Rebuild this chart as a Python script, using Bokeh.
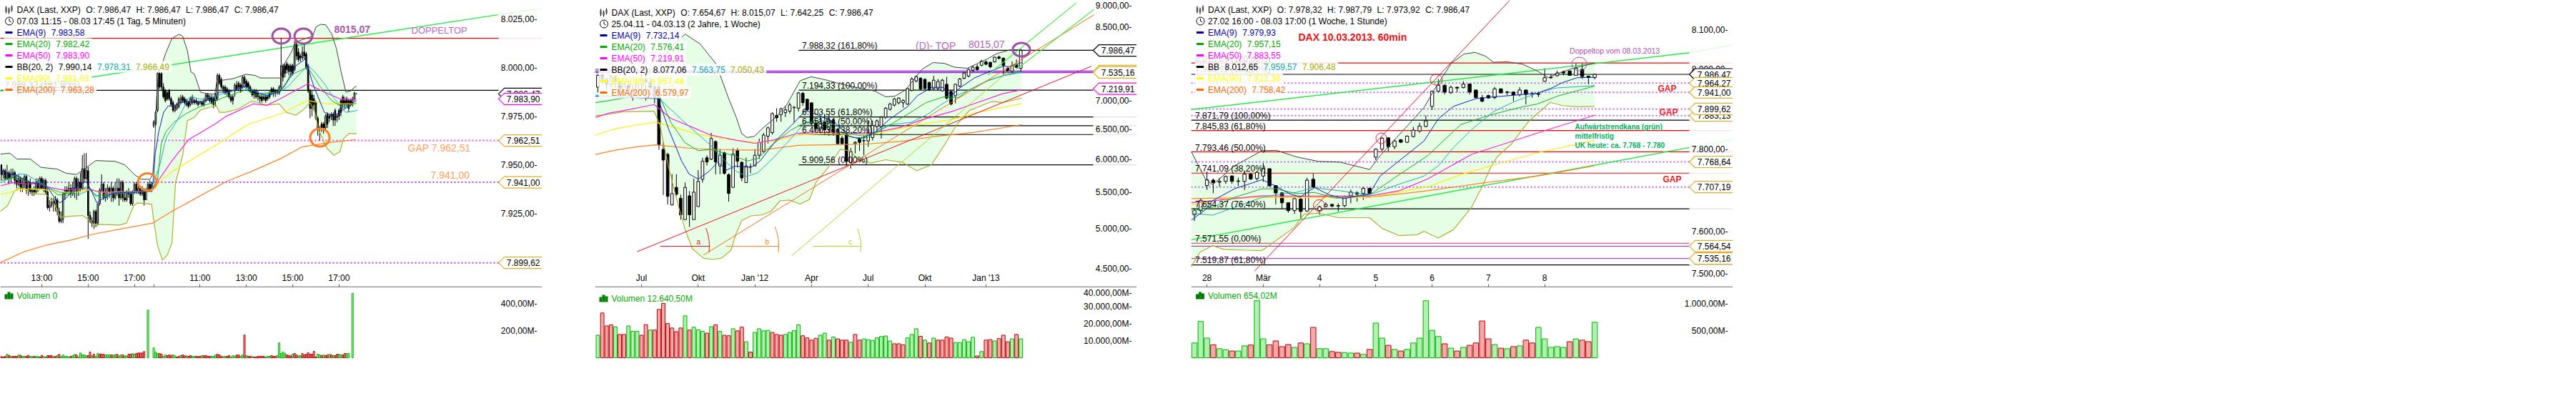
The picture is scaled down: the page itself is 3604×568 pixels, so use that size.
import math
from bokeh.plotting import figure
from bokeh.layouts import row, column
from bokeh.models import Range1d, LinearAxis, LogAxis, FixedTicker
from bokeh.core.properties import value
from bokeh.embed import file_html
from bokeh.resources import INLINE

FONT = "Liberation Sans"
# ------------------------------------------------------------------ panel 1: 5 minutes
P1_OPEN = [7950,7945,7947,7943,7946,7943,7945,7946,7942,7940,7943,7938,7940,7944,7937,7941,7936,7937,7936,7941,
7938,7943,7938,7942,7936,7928,7929,7931,7930,7932,7926,7921,7922,7935,7937,7936,7938,7935,7938,7943,
7936,7941,7938,7948,7943,7947,7924,7921,7920,7926,7920,7930,7937,7940,7933,7936,7938,7936,7938,7933,
7936,7938,7933,7941,7933,7932,7936,7935,7930,7936,7940,7936,7938,7935,7937,7932,7937,7940,7937,
7970,7971,7978,7997,7997,7990,7988,7987,7988,7984,7982,7978,7979,7980,7982,7985,7984,7983,7982,7981,7982,7983,7983,7982,7982,7982,7981,7983,7986,7985,7985,7984,7983,7984,7996,7994,7990,7990,7989,7988,7985,7985,7988,7991,7992,7991,7990,7995,7993,7992,7990,7988,7988,7988,7987,7985,7985,7985,7985,7985,7987,7989,7989,7988,7988,7987,7990,8001,8001,8002,8001,8001,8001,7999,8012,8008,8006,8005,8008,8007,8001,7988,7986,7984,7982,7974,7969,7971,7971,7969,7976,7975,7976,7976,7978,7975,7978,7983,7985,7983,7984,7983,7983,7982,7984,7986.5]
P1_CLOSE = [7945,7947,7943,7946,7943,7945,7946,7942,7940,7943,7938,7940,7944,7937,7941,7936,7937,7936,7941,7938,
7943,7938,7942,7936,7928,7929,7931,7930,7932,7926,7921,7922,7935,7937,7936,7938,7935,7938,7943,7936,
7941,7938,7948,7943,7947,7924,7921,7920,7926,7920,7930,7937,7940,7933,7936,7938,7936,7938,7933,7936,
7938,7933,7941,7933,7932,7936,7935,7930,7936,7940,7936,7938,7935,7937,7932,7937,7940,7937,7940,
7972,7977,7997,7990,7990,7985,7983,7984,7984,7981,7978,7980,7981,7984,7984,7983,7982,7981,7980,7984,7985,7982,7982,7981,7982.5,7981,7983,7986,7984,7983,7982,7981,7986,7996,7992,7990,7989,7987,7987,7985,7983,7983,7991,7989,7990,7989,7995,7992,7990,7990,7988,7986,7986,7985,7985,7984,7983,7984,7983,7984,7985,7987,7987,7987,7987,7990,8001,7995,7997,7999,7998,7998,7997,8012,8006,8004,8005,8008,8006,8000,7988,7979,7979,7981,7974,7968,7969,7969,7969,7975,7971,7974,7975,7973,7973,7974.5,7975,7977,7981,7981,7981,7979,7981,7984,7987,7986.5]
P1_HIGH = [7950,7948,7948,7950,7947,7948,7948,7947,7945,7945,7944,7943,7945,7945,7942,7943,7938,7939,7943,7943,
7944,7944,7943,7943,7938,7932,7933,7933,7934,7933,7928,7926,7936,7939,7939,7941,7940,7941,7944,7944,
7943,7946,7955,7956,7956,7949,7926,7923,7927,7927,7930,7938,7945,7941,7938,7940,7939,7941,7939,7941,
7943,7943,7942,7942,7936,7937,7938,7936,7937,7941,7941,7940,7939,7939,7938,7938,7941,7942,7941,
7973,7978,7998,7998,7998,7992,7989,7988,7989,7985,7983,7981,7982,7985,7986,7986,7985,7984,7983,7985,7986,7984,7984,7983,7983,7983,7984,7987,7987,7986,7986,7985,7987,7997,7997,7995,7991,7991,7990,7989,7986,7986,7992,7993,7993,7992,7996,7996,7994,7993,7991,7989,7989,7989,7988,7986,7986,7986,7986,7986,7988,7990,7990,7989,7989,7991,8015,8002,8002,8003,8002,8002,8002,8014,8013,8010,8007,8011,8012,8008,8002,7989,7988,7986,7983,7975,7970,7972,7972,7976,7977,7976,7977,7977,7979,7976,7979,7984,7986,7985,7985,7984,7984,7985,7987.5,7986.5]
P1_LOW = [7942,7943,7942,7942,7940,7941,7943,7940,7938,7939,7936,7936,7938,7935,7934,7935,7934,7934,7935,7936,
7937,7937,7936,7935,7927,7926,7928,7926,7926,7924,7920,7920,7920,7932,7935,7935,7933,7934,7933,7932,
7934,7936,7937,7941,7942,7912,7920,7918,7917,7918,7919,7929,7936,7932,7931,7932,7933,7931,7931,7932,
7934,7929,7932,7931,7931,7931,7933,7929,7929,7935,7935,7935,7934,7934,7929,7932,7936,7936,7936,
7969,7970,7977,7989,7988,7984,7982,7983,7983,7980,7977,7977,7978,7979,7981,7982,7981,7980,7979,7980,7981,7981,7981,7980,7981,7980,7980,7982,7983,7982,7981,7979,7980,7983,7991,7989,7987,7986,7985,7984,7982,7981,7985,7988,7988,7987,7989,7990,7989,7988,7987,7985,7984,7984,7983,7982,7982,7983,7982,7983,7984,7986,7985,7985,7986,7986,7989,7993,7995,7997,7996,7995,7996,7998,8004,8003,8003,8004,8004,7999,7987,7974,7975,7978,7973,7965,7962.5,7967,7966,7968,7969,7972,7973,7970,7970,7972,7973,7975,7979,7979,7980,7977,7980,7980,7983,7986.5]
# negative volume = red bar
P1_VOL = [-9,-5,-11,25,-18,11,-11,-11,-11,21,-18,11,11,-11,-18,11,9,-11,11,11,-5,-18,9,5,-16,-16,-16,9,-11,16,
-25,9,21,11,11,5,-11,16,25,-21,5,35,21,21,16,-16,-42,16,-26,9,32,-26,-26,-26,21,21,21,-21,21,21,-26,14,21,-21,14,14,-26,-26,32,26,
-32,-35,-35,-35,-46,0,351,0,0,74,42,32,-32,-26,11,21,-16,-21,-18,21,14,-5,-11,16,-21,-14,14,-11,-16,11,11,-11,-9,-11,16,-16,-16,-11,-11,11,
11,21,-26,-21,-11,9,11,-11,-16,5,16,11,-21,-21,11,21,-167,16,-11,-11,11,-5,-5,-11,-11,-11,-11,5,11,11,-16,-11,-11,16,110,32,
42,32,-21,-16,-14,26,-32,-21,16,16,-32,-21,-26,-37,-26,-26,-47,-5,26,21,-16,21,-16,-21,26,-21,16,-16,-26,26,21,-21,-32,32,32,0,474]
P1_XTICKS = [21,45,69,79,103,127,151,175]
P1_XLABELS = ["13:00","15:00","17:00","","11:00","13:00","15:00","17:00"]
P1_YTICKS = [8025,8000,7975,7950,7925]
P1_YLABELS = ["8.025,00-","8.000,00-","7.975,00-","7.950,00-","7.925,00-"]
P1_UP_X = [-.5,4.5,8,15,20.5,29,33.5,39,49,59,64,69,72.5,77,78.5,79.5,80.5,81.5,85.3,88.4,92.1,94,96.4,98.3,100.1,103.2,105.7,110.6,111.9,114.3,120.5,126.7,131.6,134.1,139,144.6,146.4,150.1,152.6,157.6,161.3,163.1,165.6,168.1,171.2,173.6,176.1,178.6,181,182.9,184]
P1_UP = [7955.5,7956,7953,7953,7948.7,7947.8,7945.7,7945,7952.2,7951.8,7950,7945,7942.6,7942.6,7945,7960,7985,7997,8007.6,8015,8017.2,8016.2,8008.8,7997.8,7996.6,7987.4,7986.8,7986.2,7994.1,7993.5,7994.4,7996.6,7996,7994.7,7994.7,7994.7,8001.5,8007.6,8013.1,8015,8016.1,8021,8022.3,8022,8017.4,8010,7997.8,7987.4,7988,7989.8,7990.4]
P1_LO_X = [-.5,3.2,6.9,9.4,13.7,15.5,23,24.8,28.5,30.4,36.5,42,46.4,48.9,50.7,61.2,64.9,68.6,70.5,77.9,79.1,81,83.5,85.9,88.4,90.3,94,96.4,100.1,103.2,109.4,111.3,113.1,116.2,123,129.2,131.6,137.2,144,147.7,152.6,156.3,160,162.5,164.3,168.7,172.4,175.5,177.3,180.4,183.5,184]
P1_LO = [7926,7929,7936.5,7938.3,7937,7935.3,7934.7,7933.4,7928,7923,7923.6,7923.9,7921.2,7918,7919.4,7919,7920,7929,7930.4,7929.8,7920.6,7908.4,7901,7903.4,7909.6,7941,7954.8,7972.7,7974.5,7978.2,7980,7980.7,7977,7977,7978.8,7982.5,7982.5,7980.7,7981.3,7977,7975.5,7978.2,7981.9,7977,7968.4,7958.6,7954.9,7956.8,7963.5,7966.2,7965.9,7966.5]
P1_MID_X = [-.5,3.2,8.8,13.1,18,24.2,30.4,40.2,45.8,51.4,57.5,68.6,77.3,82.2,84.7,86,88.4,92.1,97,98.9,103.2,111.9,125.4,134.1,144,148.9,153.8,158.8,162.5,167.4,172.4,178.5,182.9,184.7]
P1_MID = [7940.8,7942.6,7945.3,7945,7942,7938.3,7935.9,7934.7,7937.1,7932.8,7935.5,7935.9,7936.5,7950,7961,7965,7968.4,7974.5,7984.3,7985,7983.7,7985.6,7989.9,7986.8,7987.4,7990.5,7996,8001,7997.8,7991.7,7984.3,7977,7977.6,7978.2]
P1_E9_X = [-.5,3.2,6.9,11.8,15.5,20.5,24.2,27.3,30.4,34.1,39,44,47,49.5,52,57.5,63.7,68.6,77.3,78.7,79.8,81.6,84.1,86.6,89,92.1,97,103.2,109.4,113.1,118,126.7,131.6,137.8,144.6,147.7,152.6,157.6,158.8,161.9,167.4,172.4,176.1,179.8,184]
P1_E9 = [7947,7945.7,7945,7942.6,7940.8,7940.2,7938.3,7933.4,7930.4,7933.4,7939,7941.4,7936,7930.4,7932.2,7935.3,7935.9,7935.9,7936.5,7941.4,7956,7967,7977,7980.4,7980,7981.9,7982.5,7982.5,7983.7,7987.4,7987.4,7990.5,7987.4,7985.6,7987.8,7992.3,8000.9,8004.5,8000.2,7990.5,7977,7975.1,7977.6,7980,7983.1]
P1_E20_X = [-.5,5.7,10,15.5,20.5,25.4,29.1,34,40.2,45.2,48.9,53.8,61.2,68.6,77.3,81,82.9,85.3,89.6,95.8,103.2,109.4,114.3,126.7,132.9,142.7,146.4,150.8,158.8,165,171.1,176.1,179.8,184]
P1_E20 = [7942,7943.2,7942.6,7940.8,7940.8,7937.7,7934.7,7934.3,7937.1,7939,7934,7934.7,7935.3,7935.9,7936.5,7942.6,7961,7967,7972,7976.4,7980,7981.9,7984.3,7988.6,7985.6,7987.4,7989.9,7996.6,8000.2,7990.5,7983.1,7980,7980,7981.9]
P1_E50_X = [-.5,5.7,13.1,19.3,25.4,31.6,41.5,45.2,51.4,61.2,77.3,81,88.4,97,110.6,116.8,130.4,137.8,144,158.8,167.4,176.1,184]
P1_E50 = [7939.2,7940.8,7940.2,7940.2,7938.3,7937.1,7937.7,7937.7,7935.9,7935.9,7936.5,7941.4,7952,7962.9,7970.9,7975.1,7981.3,7980.7,7983.7,7991.7,7987.4,7983.7,7983.7]
P1_E90_X = [-.5,9.4,15.5,23,29.1,39,45.2,51.4,77.3,81,88.4,110.6,127.9,145.2,158.8,168.7,184]
P1_E90 = [7934.7,7937.1,7937.7,7937.1,7935.9,7935.9,7937.1,7935.9,7936.5,7940.2,7946.5,7959.8,7970.8,7976.4,7983.1,7981.3,7981.3]
P1_E200_X = [-.5,11.8,23,36.5,47,61.2,78.5,88.4,116.6,129.8,145,156,169.6,183.6]
P1_E200 = [7899.7,7905.3,7908.6,7911.4,7914.2,7916.9,7920,7926.1,7941.4,7946.7,7953.3,7959.3,7961.4,7963]
P1_GREEN_X = [-.5,257.3]
P1_GREEN = [7987.9,8027.2]
P1_RED = 8015.07
P1_FIB = 7988.32
P1_DOTS = [7962.51,7941.00,7899.62]
P1_CALLOUTS = [(7986.47,"7.986,47","#000000"),(7983.90,"7.983,90","#ff00ff"),(7962.51,"7.962,51","#e0b020"),(7941.00,"7.941,00","#e0b020"),(7899.62,"7.899,62","#e0b020")]

# ------------------------------------------------------------------ panel 2: weekly
P2_OPEN = [7250,7480,7400,7300,7450,7350,7200,7300,7200,7150,7300,7400,7350,7250,7250,6157,6075,5320,5570,5413,
5117,5448,5117,5296,5690,6022,6000,6285,5893,6100,5760,5570,6138,5950,5640,5878,5893,6062,6120,6373,
6433,6730,6745,6780,6805,6870,6860,7134,7024,6958,6600,6500,6620,6480,6650,6490,6340,6415,5945,6250,
6330,6300,6295,6350,6535,6535,6700,6840,6915,6958,6960,6935,7190,7370,7425,7400,7340,7224,7224,7180,
7305,7170,7090,7270,7420,7465,7580,7650,7680,7750,7740,7750,7850,7825,7620,7560,7690,7620]
P2_CLOSE = [7480,7400,7300,7450,7350,7200,7300,7200,7150,7300,7400,7350,7250,7050,6230,5985,5440,5480,5470,5180,
5570,5182,5500,5660,5966,5955,6335,5955,6062,5780,5482,6080,5966,5710,5893,5880,6062,6275,6393,6515,
6763,6690,6850,6830,6920,6875,7142,6960,6830,6600,6500,6620,6480,6650,6420,6250,6250,5965,6120,6270,
6270,6295,6420,6555,6637,6700,6860,6935,7030,7045,7000,7224,7410,7455,7215,7224,7200,7385,7360,7385,
7045,6935,7305,7410,7525,7595,7641,7595,7765,7700,7650,7845,7820,7680,7560,7670,7640,7986]
P2_HIGH = [7500,7520,7440,7500,7480,7400,7350,7330,7300,7350,7500,7520,7450,7300,7300,6275,6100,5767,5767,5465,
5640,5516,5700,5830,6022,6060,6430,6300,6160,6120,5780,6176,6176,5966,6022,5930,6160,6335,6430,6535,
6785,6860,6870,6900,6960,6900,7160,7160,7024,6960,6650,6700,6750,6750,6670,6510,6380,6430,6180,6290,
6350,6390,6640,6640,6660,6720,6880,6960,7050,7060,7024,7240,7440,7480,7440,7420,7360,7470,7410,7410,
7450,7190,7320,7430,7550,7620,7680,7700,7790,7780,7750,7860,7880,7840,7650,7760,7800,8015]
P2_LOW = [7150,7300,7200,7250,7250,7050,7100,7050,7000,7050,7200,7000,7100,6950,6150,5460,5325,5310,5450,5117,
5117,5020,5117,5296,5640,5900,5985,5765,5765,5760,5365,5570,5870,5660,5640,5780,5893,6000,6100,6250,
6400,6620,6620,6700,6760,6610,6800,6900,6800,6560,6450,6420,6400,6380,6380,6230,6230,5900,5850,6090,
6130,6060,6200,6300,6450,6333,6670,6820,6890,6930,6870,6920,7170,7340,7190,7200,7180,7200,7190,7170,
7020,6910,6950,7250,7400,7440,7540,7570,7660,7680,7620,7730,7800,7490,7530,7530,7620,7560]
P2_VOL = [13240,-26330,-18720,-19330,18260,-13700,-13700,18720,15520,15520,-13240,-19480,16290,-16290,-28460,-31960,-20090,-17500,-15370,-17500,
24660,-16290,17960,16440,15520,-14460,18260,-19330,15520,-13240,-12940,17050,-15830,-17960,9440,-3350,14920,17050,15830,16130,
-14920,-13700,-13240,13700,14920,15980,19330,-12940,-11720,-10350,-11420,13240,14460,-10350,12180,-11110,-10350,-10350,9130,-13700,
-10350,11110,10650,10200,11720,12480,12780,9890,-8220,-8220,-7610,11720,13700,17050,-12630,10350,-8680,11570,-10350,-10350,
-12180,-11570,8980,8980,10650,9440,12020,-1070,3650,-10350,-10650,9890,-11260,-13240,-9440,11110,-13700,11110]
P2_XTICKS = [10,23,36,49,62,75,89]
P2_XLABELS = ["Jul","Okt","Jan '12","Apr","Jul","Okt","Jan '13"]
P2_YTICKS = [9000,8500,7000,6500,6000,5500,5000,4500]
P2_YLABELS = ["9.000,00-","8.500,00-","7.000,00-","6.500,00-","6.000,00-","5.500,00-","5.000,00-","4.500,00-"]
P2_UP_X = [-.55,13.8,16.7,20,23.4,27.1,30,31.7,33,34.2,35.9,38,40.9,43.4,46.4,48.9,51.8,55.1,60.2,63.5,66,68.1,70.6,72.7,74.4,76.9,79.4,81.9,84.8,86.9,89.4,91.5,94.4,97.2]
P2_UP = [7600,7600,8050,8338,8127,7710,7035,6704,6415,6350,6372,6523,6704,6936,7376,7452,7400,7326,7226,7177,7070,7080,7200,7426,7605,7735,7720,7640,7620,7710,7815,7920,7995,8005]
P2_LO_X = [-.55,2.5,5.8,12.9,14.2,16.3,18.4,20,21.7,24.2,26.3,28.4,30.5,31.7,33,35.1,37.6,39.7,41.8,43.9,46.4,48.5,50.1,52.6,55.6,57.6,60.2,62.7,66,69.8,73.1,76.5,79.4,82.3,85.2,90.3,92.8,97.2]
P2_LO = [6727,6750,6796,6805,6568,5850,5317,4985,4737,4624,4608,4624,4720,4933,5105,5168,5182,5229,5376,5387,5331,5395,5654,5850,6156,6135,5970,5938,5990,5950,5820,5910,6220,6568,6818,6983,6960,7045]
P2_MID_X = [-.55,13.8,16.7,19.2,22.5,25.9,29.2,31.7,34.2,36.7,40.1,43.4,47.6,51,54.3,57.6,61,63.5,66.8,71.9,75.6,78.5,81.9,85.2,89.4,92.8,97.2]
P2_MID = [7100,7056,6840,6657,6436,6220,5970,5811,5733,5790,6010,6263,6610,6657,6568,6415,6372,6436,6568,6610,6750,6912,7080,7200,7370,7470,7540]
P2_E9_X = [-.55,13.8,16.3,19.2,20.9,23,25.5,27.5,29.6,31.3,35.1,37.2,40.9,45.1,47.6,50.1,54.3,57.6,60.2,63.5,66.8,71.1,73.3,76.6,79.3,81,83.2,86.4,90.3,93,94.1,97.2]
P2_E9 = [7080,7035,6479,5970,5770,5692,5811,5950,5830,5890,5870,5970,6306,6610,6818,6750,6610,6372,6328,6436,6657,6893,7090,7247,7247,7090,7247,7430,7570,7665,7650,7735]
P2_E20_X = [-.55,13.8,16.7,20,23,25.9,29.2,31.3,34.2,36.7,40.1,44.3,47.6,51.8,55.1,58.5,61.8,66,71,75.2,79.4,82.7,85.2,89.4,93.6,97.2]
P2_E20 = [6960,7150,6610,6263,6135,6156,6094,6052,5970,6010,6240,6479,6610,6590,6458,6350,6350,6523,6750,6960,7070,7056,7200,7380,7490,7555]
P2_E50_X = [-.55,2.5,7.5,12.9,16.7,21.7,25.9,31.7,35.9,40.1,45.9,52.6,59.3,63.5,69.4,74.4,81,86.1,92.8,97.2]
P2_E50 = [6695,6770,6840,6927,6680,6523,6392,6306,6255,6306,6422,6436,6422,6436,6523,6657,6796,6936,7127,7200]
P2_E90_X = [-.55,4.1,9.2,13.3,17.5,22.5,29.2,35.9,40.1,45.9,52.6,61,65.2,73.5,81,87.7,97.2]
P2_E90 = [6392,6500,6568,6610,6523,6415,6329,6270,6285,6392,6415,6392,6436,6568,6657,6796,6945]
P2_E200_X = [-.55,4.1,9.2,13.3,21.7,31.7,37.6,45.9,52.6,61,69.4,77.7,86.1,97.2]
P2_E200 = [6073,6145,6200,6230,6170,6145,6145,6220,6230,6240,6285,6372,6436,6568]
P2_FIBS = [7988.32,7194.33,6703.56,6551.94,6400.34,5909.56]
P2_FIB_LABELS = ["7.988,32 (161,80%)","7.194,33 (100,00%)","6.703,55 (61,80%)","6.551,94 (50,00%)","6.400,34 (38,20%)","5.909,56 (0,00%)"]
P2_PURPLE = [7564.54,7535.16]
P2_RED_T = ([9,113.2],[4703,7660])
P2_ORG_T = ([24.2,113.8],[4661,8772])
P2_YEL_T = ([44.5,96.5],[4655,7735])
P2_GRN1_T = ([89.4,109.7],[7484,9049])
P2_GRN2_T = ([96.1,113.7],[7605,8890])
P2_CALLOUTS = [(7986.47,"7.986,47","#000000"),(7564.54,"","#e0b020"),(7535.16,"7.535,16","#e0b020"),(7219.91,"7.219,91","#ff00ff")]

# ------------------------------------------------------------------ panel 3: hourly
P3_OPEN = [7640,7650,7711,7724,7719,7721,7734,7721,7721,7739,7728,7734,7752,7711,7693,7669,7650,7678,7649,7726,7650,7660,7665,7661,7662,7686,7693,7692,7704,7780,7800,7828,7806,7823,7817,7831,7845,7856,7906,7944,7959,7941,7954,7953,7962,7947,7928,7933,7928,7950,7941,7942,7935,7947,7937,7938,7969,7978,7983,7993,7995,7984,7999,7982,7978.3]
P3_CLOSE = [7650,7675,7725,7718,7721,7733,7721,7722,7739,7727,7743,7752,7710,7693,7669,7650,7679,7648,7724,7707,7659,7665,7661,7662,7684,7695,7690,7704,7692,7800,7827,7806,7820,7817,7832,7847,7857,7870,7944,7959,7942,7954,7952,7962,7942,7928,7919,7927,7950,7940,7942,7935,7947,7936,7937.5,7936,7978,7979,7990,7990,7984,8002,7981,7979,7986.5]
P3_HIGH = [7655,7680,7745,7728,7730,7735,7736,7730,7745,7741,7746,7766,7753,7712,7695,7670,7683,7680,7730,7740,7662,7670,7667,7668,7687,7701,7697,7707,7706,7802,7830,7829,7823,7825,7834,7855,7865,7883,7946,7975,7961,7958,7955,7969,7963,7948,7935,7935,7955,7951,7945,7943,7954,7948,7942,7942,8002,7987,7996,7996,7996,8014,8014,7983,7987.8]
P3_LOW = [7625,7640,7700,7692,7708,7715,7715,7710,7700,7724,7723,7720,7708,7665,7655,7645,7642,7630,7647,7705,7640,7658,7658,7648,7658,7668,7672,7676,7690,7773,7795,7795,7800,7815,7815,7829,7840,7854,7897,7942,7936,7937,7942,7951,7936,7926,7916,7925,7924,7938,7934,7919,7931,7911,7928,7929,7968,7975,7981,7984,7983,7983,7975,7962,7973.9]
P3_VOL = [272,667,362,-238,167,148,-124,124,219,-234,1050,348,-238,-310,-205,-243,191,-272,257,-558,
167,167,-114,-100,95,86,-86,62,-153,639,362,-229,153,-124,153,272,362,1050,505,391,
-257,176,-124,191,-229,-272,-677,-348,243,-176,167,-205,219,-324,-272,558,348,191,205,191,
-296,348,-324,-296,653]
P3_XTICKS = [2,11,20,29,38,47,56]
P3_XLABELS = ["28","Mär","4","5","6","7","8"]
P3_YTICKS = [8100,8000,7800,7600,7500]
P3_YLABELS = ["8.100,00-","8.000,00-","7.800,00-","7.600,00-","7.500,00-"]
P3_UP_X = [-.5,1.75,2.9,6.4,10.8,13.1,16.3,19.8,23.3,28,29.7,32.7,36.7,38.5,41.1,43.1,44.9,46.6,47.8,50.1,52.5,54.8,56.6,58.3,60.6,64]
P3_UP = [7794,7727,7713,7759,7796,7797,7781,7770,7768,7750,7784,7835,7903,7952,8015,8038,8042,8032,8017,8018,8012,7995,7978,7990,8002,8015]
P3_LO_X = [-.5,.9,2.9,4.7,8.2,10.8,13.4,16,17.5,19.8,23,28,30,32.7,35.6,36.7,39,41.4,44.3,46,47.5,48.4,50.7,53.4,56.9,58.9,61.2,64]
P3_LO = [7516,7550,7566,7557,7555,7554,7582,7610,7641,7644,7633,7633,7607,7590,7592,7600,7584,7604,7658,7708,7759,7781,7813,7868,7916,7908,7905,7906]
P3_MID_X = [-.5,2.9,6.4,10.8,14,16.3,19,23.3,28,32.7,36.7,39,41.4,44.3,47.8,51.3,54.8,57.7,64]
P3_MID = [7644,7639,7658,7682,7691,7694,7706,7698,7688,7714,7734,7759,7804,7848,7893,7919,7939,7952,7958]
P3_E9_X = [-.5,1.75,2.9,6.4,10.8,12.8,15.2,16.9,19.2,21.6,23.9,28,29.7,32.7,36.7,39,41.4,44.9,47.2,51.9,54.8,57.1,58.9,61.2,64]
P3_E9 = [7627,7652,7674,7703,7725,7711,7691,7683,7706,7688,7679,7691,7734,7771,7820,7875,7906,7925,7929,7935,7939,7952,7966,7978,7979]
P3_E20_X = [-.5,2.9,6.4,10.8,13.1,16.3,19.2,22.7,28,32.7,37.3,42.6,47.2,51.9,54.8,58.3,61.2,64]
P3_E20 = [7649,7658,7682,7703,7703,7691,7694,7680,7688,7737,7784,7861,7884,7903,7912,7933,7945,7957]
P3_E50_X = [-.5,2.9,10.8,16.9,28,32.7,37.3,44.3,51.9,57.1,64]
P3_E50 = [7669,7674,7686,7685,7685,7698,7727,7787,7825,7851,7884]
P3_E90_X = [-.5,5.2,10.8,28,37.3,43.1,49,54.8,64]
P3_E90 = [7664,7680,7682,7682,7708,7740,7766,7791,7822]
P3_E200_X = [-.5,10.8,28,37.3,46,54.8,64]
P3_E200 = [7679,7682,7682,7698,7717,7734,7759]
P3_RED_T = ([9.6,50.4],[7505,8175])
P3_GRNU_T = ([-.5,79.2],[7898,8041])
P3_GRNL_T = ([-.5,79.2],[7580,7804])
P3_BLACK = [7986.47,7871.79,7654.37,7519.87]
P3_RED = [8015.07,7845.83,7793.46,7741.09]
P3_RED_THIN = [7571.55]
P3_PURPLE_THIN = [7564.54,7535.16]
P3_DOTS = [7964.27,7941.00,7899.62,7883.13,7768.64,7707.19]
P3_CALLOUTS = [(7986.47,"7.986,47","#000000"),(7964.27,"7.964,27","#e0b020"),(7941.00,"7.941,00","#e0b020"),(7883.13,"7.883,13","#e0b020"),(7899.62,"7.899,62","#e0b020"),(7768.64,"7.768,64","#e0b020"),(7707.19,"7.707,19","#e0b020"),(7564.54,"7.564,54","#e0b020"),(7535.16,"7.535,16","#e0b020")]

W, PH, VH = 758, 402, 166
BASE = 98   # volume baseline, px from the top of the volume figure
LINE_END = 697
BAND = "#e6fde6"
CW = {'.':.278,',':.278,' ':.278,':':.278,'(':.333,')':.333,'-':.333,'E':.667,'M':.833,'A':.667,'B':.667,'D':.722,'X':.667,'L':.556,'a':.556,'s':.5,'t':.278,'P':.667,'O':.778,'H':.722,'C':.722}
def tw(s, size=12):
    return sum(CW.get(c,.556) for c in s)*size

class Pane:
    def __init__(self, a, b, top, bottom, log, height):
        self.a, self.b, self.top, self.bottom, self.log, self.h = a, b, top, bottom, log, height
        xr = Range1d(-a/b, (W-a)/b)
        yr = Range1d(bottom, top)
        self.f = figure(width=W, height=height, x_range=xr, y_range=yr,
                        y_axis_type="log" if log else "linear",
                        x_axis_location=None, y_axis_location=None,
                        toolbar_location=None, output_backend="svg", min_border=0,
                        outline_line_color=None)
        self.f.grid.visible = False
    def X(self, px): return (px-self.a)/self.b
    def Y(self, py):
        t = py/self.h
        if self.log:
            return math.exp(math.log(self.top)*(1-t)+math.log(self.bottom)*t)
        return self.top+(self.bottom-self.top)*t
    def PY(self, v):
        if self.log:
            return self.h*(math.log(self.top)-math.log(v))/(math.log(self.top)-math.log(self.bottom))
        return self.h*(self.top-v)/(self.top-self.bottom)
    def text(self, px, py, s, color="#000000", size=12, bold=False, align="left", level=None, alpha=1.0, font=FONT):
        kw = {"level":level} if level else {}
        self.f.text([self.X(px)],[self.Y(py)],[s],text_font=value(font),text_font_size=value(f"{size}px"),
                    text_color=color,text_baseline="middle",text_align=align,
                    text_font_style="bold" if bold else "normal",text_alpha=alpha,**kw)
    def box(self, l, r, t, b, color, alpha=1.0, level=None):
        kw = {"level":level} if level else {}
        self.f.quad(left=[self.X(l)],right=[self.X(r)],top=[self.Y(t)],bottom=[self.Y(b)],
                    fill_color=color,fill_alpha=alpha,line_color=None,**kw)
    def seg(self, x0, y0, x1, y1, color="#000000", width=1):
        self.f.line([self.X(x0),self.X(x1)],[self.Y(y0),self.Y(y1)],line_color=color,line_width=width)

def yaxis(pane, ticks, labels, log):
    cls = LogAxis if log else LinearAxis
    ax = cls(ticker=FixedTicker(ticks=ticks), major_label_overrides=dict(zip(ticks,labels)),
             fixed_location=pane.X(W-1), axis_line_color=None, major_tick_line_color=None,
             minor_tick_line_color=None, major_label_standoff=0,
             major_label_text_font=FONT, major_label_text_font_size="12px", major_label_text_color="#000000")
    pane.f.add_layout(ax,'left')

def xaxis(pane, ticks, labels):
    ax = LinearAxis(ticker=FixedTicker(ticks=ticks), major_label_overrides=dict(zip(ticks,labels)),
             fixed_location=pane.Y(401), axis_line_color="#888888", axis_line_width=1.5,
             major_tick_line_color="#666666", major_tick_in=0, major_tick_out=4,
             minor_tick_line_color=None, major_label_standoff=2,
             major_label_text_font=FONT, major_label_text_font_size="12px", major_label_text_color="#000000")
    pane.f.add_layout(ax,'above')

def hlines(pane, values, x0=0, x1=LINE_END, faint=True, **kw):
    for v in values:
        pane.f.line([pane.X(x0),pane.X(x1)],[v,v],**kw)
        if faint:
            c = kw.get("line_color")
            pane.f.line([pane.X(x1),pane.X(W)],[v,v],line_color=c,line_alpha=.12,line_width=kw.get("line_width",1))

def candles(pane, o, c, h, l, width):
    xs = list(range(len(o)))
    hi = [max(a,b,d) for a,b,d in zip(h,o,c)]
    lo = [min(a,b,d) for a,b,d in zip(l,o,c)]
    pane.f.segment(xs,hi,xs,lo,line_color="#000000",line_width=1)
    up = [i for i in xs if c[i] >= o[i]]
    dn = [i for i in xs if c[i] < o[i]]
    pane.f.vbar(up,width,[c[i] for i in up],[o[i] for i in up],fill_color="#ffffff",line_color="#000000",line_width=1)
    pane.f.vbar(dn,width,[o[i] for i in dn],[c[i] for i in dn],fill_color="#000000",line_color="#000000",line_width=1)

def series(pane, lines):
    for xs, ys, col, wd in lines:
        pane.f.line(xs, ys, line_color=col, line_width=wd)

def callouts(pane, items):
    for val, label, col in items:
        py = pane.PY(val)
        xs = [W, 705, 697, 705, W]
        ys = [py-8, py-8, py, py+8, py+8]
        pane.f.patch([pane.X(x) for x in xs],[pane.Y(y) for y in ys],fill_color="#ffffff",line_color=None,level="annotation")
        pane.f.line([pane.X(x) for x in xs],[pane.Y(y) for y in ys],line_color=col,line_width=1.2,level="annotation")
        if label:
            pane.text(755, py, label, align="right", level="annotation")

def legend(pane, tx, y0, header, period, rows):
    rh = 16
    allrows = [[(s,"#000000") for s in header], [(period,"#000000")]] + [r[1] for r in rows]
    colors = [None,None]+[r[0] for r in rows]
    for k,parts in enumerate(allrows):
        yc = y0+rh*k
        x = tx
        pos = []
        for s,col in parts:
            pos.append((x,s,col))
            x += tw(s)+7.5
        if k >= 2:
            pane.box(tx-18, x-4, yc-8, yc+8, "#ffffff", .86)
        for px,s,col in pos:
            pane.text(px,yc,s,col)
        if colors[k]:
            pane.box(tx-16, tx-6, yc-1.5, yc+1.5, colors[k])
    yc = y0
    for dx,t,b in [(-15,-4,4),(-11,-2,5),(-7,-5,2)]:
        pane.seg(tx+dx, yc+t-1, tx+dx, yc+b+1, "#000000", 1)
        pane.box(tx+dx-1.2, tx+dx+1.2, yc+t+1, yc+b-1, "#555555")
    yc = y0+rh
    pane.f.ellipse([pane.X(tx-10.5)],[pane.Y(yc)],width=11,height=11,width_units="screen",height_units="screen",fill_color=None,line_color="#000000",line_width=1)
    pane.seg(tx-10.5, yc-3.5, tx-10.5, yc, "#000000", 1)
    pane.seg(tx-10.5, yc, tx-8, yc+1.5, "#000000", 1)

def volume(vals, a, b, per_px, width, ticks, labels, tx, ty, label):
    top = BASE*per_px
    bottom = -(VH-BASE)*per_px
    v = Pane(a, b, top, bottom, False, VH)
    xs = list(range(len(vals)))
    g = [i for i in xs if vals[i] > 0]
    r = [i for i in xs if vals[i] < 0]
    v.f.vbar(g,width,[vals[i] for i in g],0,fill_color="#b0f0b0",line_color="#00b400",line_width=1)
    v.f.vbar(r,width,[-vals[i] for i in r],0,fill_color="#f0aaaa",line_color="#c00000",line_width=1)
    yaxis(v, ticks, labels, False)
    for dx,t in [(-15,3),(-11,0),(-7,2)]:
        v.box(tx+dx-2, tx+dx+2, ty-5+t, ty+5, "#008000")
    v.text(tx, ty, label, "#00aa00")
    return v

LEG = lambda e9,e20,e50,bb,bb1,bb2,bb3,e90,e200: [
    ("#0000aa",[("EMA(9)","#0000aa"),(e9,"#0000aa")]),
    ("#00aa00",[("EMA(20)","#00aa00"),(e20,"#00aa00")]),
    ("#ff00ff",[("EMA(50)","#ff00ff"),(e50,"#ff00ff")]),
    ("#000000",[(bb,"#000000"),(bb1,"#000000"),(bb2,"#00aaaa"),(bb3,"#aaaa00")]),
    ("#ffff00",[("EMA(90)","#ffff00"),(e90,"#ffff00")]),
    ("#ff6600",[("EMA(200)","#ff6600"),(e200,"#ff6600")]),
]
BLUE,GREEN,MAG,TEAL,OLIVE,YEL,ORG = "#1020c0","#10b020","#ff20e0","#20b0b0","#b0b030","#ffee00","#ff8020"
UPPER = "#404040"
THICK, THIN = 1.2, 1.0

# ================================================================== panel 1
p1 = Pane(1.3, 2.7, 8034.6, 7886.8, False, PH)
p1.f.patch(P1_UP_X+P1_LO_X[::-1], P1_UP+P1_LO[::-1], fill_color=BAND, line_color=None)
hlines(p1,[P1_RED],line_color="#ff0000",line_width=1.2)
hlines(p1,[P1_FIB],line_color="#000000",line_width=1.2)
hlines(p1,[P1_DOTS[0]],faint=False,line_color="#f040f0",line_width=2,line_dash=[2,3])
hlines(p1,P1_DOTS[1:],faint=False,line_color="#b040f0",line_width=2,line_dash=[2,3])
p1.f.line(P1_GREEN_X,P1_GREEN,line_color="#22ee44",line_width=1.5)
p1.seg(LINE_END,p1.PY(P1_GREEN[1]),W,p1.PY(P1_GREEN[1])-9,"#ddffdd",1.5)
candles(p1,P1_OPEN,P1_CLOSE,P1_HIGH,P1_LOW,.6)
series(p1,[(P1_UP_X,P1_UP,UPPER,THIN),(P1_LO_X,P1_LO,OLIVE,THICK),(P1_E200_X,P1_E200,ORG,THICK),(P1_E90_X,P1_E90,YEL,THICK),(P1_E50_X,P1_E50,MAG,THICK),(P1_E20_X,P1_E20,GREEN,THIN),(P1_MID_X,P1_MID,TEAL,THIN),(P1_E9_X,P1_E9,BLUE,THIN)])
for px,py,c,w,h in [(393,50,"#a050a8",25,21),(424,50,"#a050a8",25,21),(447,192,"#ff8020",27,25),(205.7,254,"#ff8020",26,24)]:
    p1.f.ellipse([p1.X(px)],[p1.Y(py)],width=w,height=h,width_units="screen",height_units="screen",fill_color=None,line_color=c,line_width=3)
p1.text(6,118,"7.988,32 (161,80%)","#000000")
p1.text(467,40,"8015,07","#a855a8",14,True)
p1.text(575,42,"DOPPELTOP","#b868c0",13)
p1.text(570,206,"GAP  7.962,51","#ffa060",14)
p1.text(602,244.6,"7.941,00","#ffa060",14)
legend(p1,23,13,["DAX (Last, XXP)","O: 7.986,47","H: 7.986,47","L: 7.986,47","C: 7.986,47"],"07.03 11:15 - 08.03 17:45 (1 Tag, 5 Minuten)",
       LEG("7.983,58","7.982,42","7.983,90","BB(20, 2)","7.990,14","7.978,31","7.966,49","7.981,03","7.963,28"))
yaxis(p1,P1_YTICKS,P1_YLABELS,False)
xaxis(p1,P1_XTICKS,P1_XLABELS)
callouts(p1,P1_CALLOUTS)
v1 = volume(P1_VOL,1.3,2.7,200/38,.75,[400,200],["400,00M-","200,00M-"],23,11,"Volumen  0")

# ================================================================== panel 2
p2 = Pane(4, 6.1, 9110.7, 4278, True, PH)
p2.f.patch(P2_UP_X+P2_LO_X[::-1], P2_UP+P2_LO[::-1], fill_color=BAND, line_color=None)
hlines(p2,P2_PURPLE,x1=LINE_END,line_color="#9a20e0",line_width=1.5)
hlines(p2,P2_FIBS,x0=285,x1=LINE_END,line_color="#000000",line_width=1.2)
candles(p2,P2_OPEN,P2_CLOSE,P2_HIGH,P2_LOW,.6)
series(p2,[(P2_UP_X,P2_UP,UPPER,THIN),(P2_LO_X,P2_LO,OLIVE,THICK),(P2_E200_X,P2_E200,ORG,THICK),(P2_E90_X,P2_E90,YEL,THICK),(P2_E50_X,P2_E50,MAG,THICK),(P2_E20_X,P2_E20,GREEN,THIN),(P2_MID_X,P2_MID,TEAL,THIN),(P2_E9_X,P2_E9,BLUE,THIN)])
series(p2,[(*P2_RED_T,"#ee1020",1),(*P2_ORG_T,"#ff6a10",1),(*P2_YEL_T,"#a8dc20",1),(*P2_GRN1_T,"#44ee44",1.2),(*P2_GRN2_T,"#44ee44",1.2)])
for col,x0,x1,yc,lab in [("#ee1020",91,160,344,"a"),("#ff8020",183,257,344,"b"),("#a8dc20",305,372,344,"c")]:
    p2.seg(x0,yc,x1,yc,col,1)
    p2.f.arc([p2.X(x0)],[p2.Y(yc)],radius=x1-x0,start_angle=-.12,end_angle=.38,radius_units="screen",line_color=col,line_width=1)
    p2.text(x0+(x1-x0)*.78,338,lab,col,10,align="center")
p2.f.ellipse([p2.X(596.5)],[p2.Y(69)],width=24,height=19,width_units="screen",height_units="screen",fill_color=None,line_color="#a050a8",line_width=3)
for lab,py in zip(P2_FIB_LABELS,[63,119,156,169,181,223]):
    p2.text(289.5,py,lab)
p2.text(448.5,63,"(D)- TOP","#b868c0",14)
p2.text(522.5,61,"8015,07","#b060c0",14)
legend(p2,23,17,["DAX (Last, XXP)","O: 7.654,67","H: 8.015,07","L: 7.642,25","C: 7.986,47"],"25.04.11 - 04.03.13 (2 Jahre, 1 Woche)",
       LEG("7.732,14","7.576,41","7.219,91","BB(20, 2)","8.077,06","7.563,75","7.050,43","6.957,48","6.579,97"))
yaxis(p2,P2_YTICKS,P2_YLABELS,True)
xaxis(p2,P2_XTICKS,P2_XLABELS)
callouts(p2,P2_CALLOUTS)
v2 = volume(P2_VOL,4,6.1,10000/23.8,.8,[40000,30000,20000,10000],["40.000,00M-","30.000,00M-","20.000,00M-","10.000,00M-"],23,15,"Volumen  12.640,50M")

# ================================================================== panel 3
p3 = Pane(4.6, 8.75, 8175.3, 7466, True, PH)
p3.f.patch(P3_UP_X+P3_LO_X[::-1], P3_UP+P3_LO[::-1], fill_color=BAND, line_color=None)
hlines(p3,P3_DOTS,faint=False,line_color="#c060f0",line_width=2,line_dash=[2,3])
hlines(p3,P3_BLACK,line_color="#000000",line_width=1.2)
hlines(p3,P3_RED,line_color="#ff0000",line_width=1.2)
hlines(p3,P3_RED_THIN,line_color="#e03060",line_width=1)
hlines(p3,P3_PURPLE_THIN,line_color="#a020d0",line_width=1)
candles(p3,P3_OPEN,P3_CLOSE,P3_HIGH,P3_LOW,.5)
series(p3,[(*P3_GRNU_T,"#22ee44",1.5),(*P3_GRNL_T,"#22ee44",1.5)])
for g in (P3_GRNU_T,P3_GRNL_T):
    p3.seg(LINE_END,p3.PY(g[1][1]),W,p3.PY(g[1][1])-11,"#ddffdd",1.5)
series(p3,[(P3_UP_X,P3_UP,UPPER,THIN),(P3_LO_X,P3_LO,OLIVE,THICK),(P3_E200_X,P3_E200,ORG,THICK),(P3_E90_X,P3_E90,YEL,THICK),(P3_E50_X,P3_E50,MAG,THICK),(P3_E20_X,P3_E20,GREEN,THIN),(P3_MID_X,P3_MID,TEAL,THIN),(P3_E9_X,P3_E9,BLUE,THIN)])
series(p3,[(*P3_RED_T,"#ee1020",1)])
for px,py,c,w,h in [(266,193,"#e02030",15,15),(179,287,"#e02030",16,16),(343,111,"#e02030",17,15),(543,89,"#a050a8",21,19)]:
    p3.f.ellipse([p3.X(px)],[p3.Y(py)],width=w,height=h,width_units="screen",height_units="screen",fill_color=None,line_color=c,line_width=1)
for lab,py in [("7.871,79 (100,00%)",161),("7.845,83 (61,80%)",176),("7.793,46 (50,00%)",206),("7.741,09 (38,20%)",235.5),("7.654,37 (76,40%)",285.5),("7.571,55 (0,00%)",333),("7.519,87 (61,80%)",363),("8.015,07 (100,00%)",82),("7.988,32 (161,80%)",96)]:
    p3.text(5.6,py,lab)
p3.text(150,51.5,"DAX 10.03.2013.  60min","#f01010",14,True)
p3.text(529.6,70.6,"Doppeltop vom 08.03.2013","#b050b8",10.5)
for px,py in [(666,123),(668,156),(673,250)]:
    p3.text(px,py,"GAP","#f02020",12,True,align="center")
for s,py in [("Aufwärtstrendkana (grün)",177),("mittelfristig",190),("UK heute: ca. 7.768 - 7.780",203)]:
    p3.text(537,py,s,"#00b060",10,True)
legend(p3,23.5,13,["DAX (Last, XXP)","O: 7.978,32","H: 7.987,79","L: 7.973,92","C: 7.986,47"],"27.02 16:00 - 08.03 17:00 (1 Woche, 1 Stunde)",
       LEG("7.979,93","7.957,15","7.883,55","BB","8.012,65","7.959,57","7.906,48","7.822,38","7.758,42"))
yaxis(p3,P3_YTICKS,P3_YLABELS,True)
xaxis(p3,P3_XTICKS,P3_XLABELS)
callouts(p3,P3_CALLOUTS)
v3 = volume(P3_VOL,4.6,8.75,500/38,.85,[1000,500],["1.000,00M-","500,00M-"],23.5,11,"Volumen  654,02M")

root = row(column(p1.f,v1.f,margin=(0,74,0,0),spacing=0),
           column(p2.f,v2.f,margin=(0,76,0,0),spacing=0),
           column(p3.f,v3.f,margin=(0,0,0,0),spacing=0),
           spacing=0)
open("out.html","w").write(file_html(root, INLINE))
